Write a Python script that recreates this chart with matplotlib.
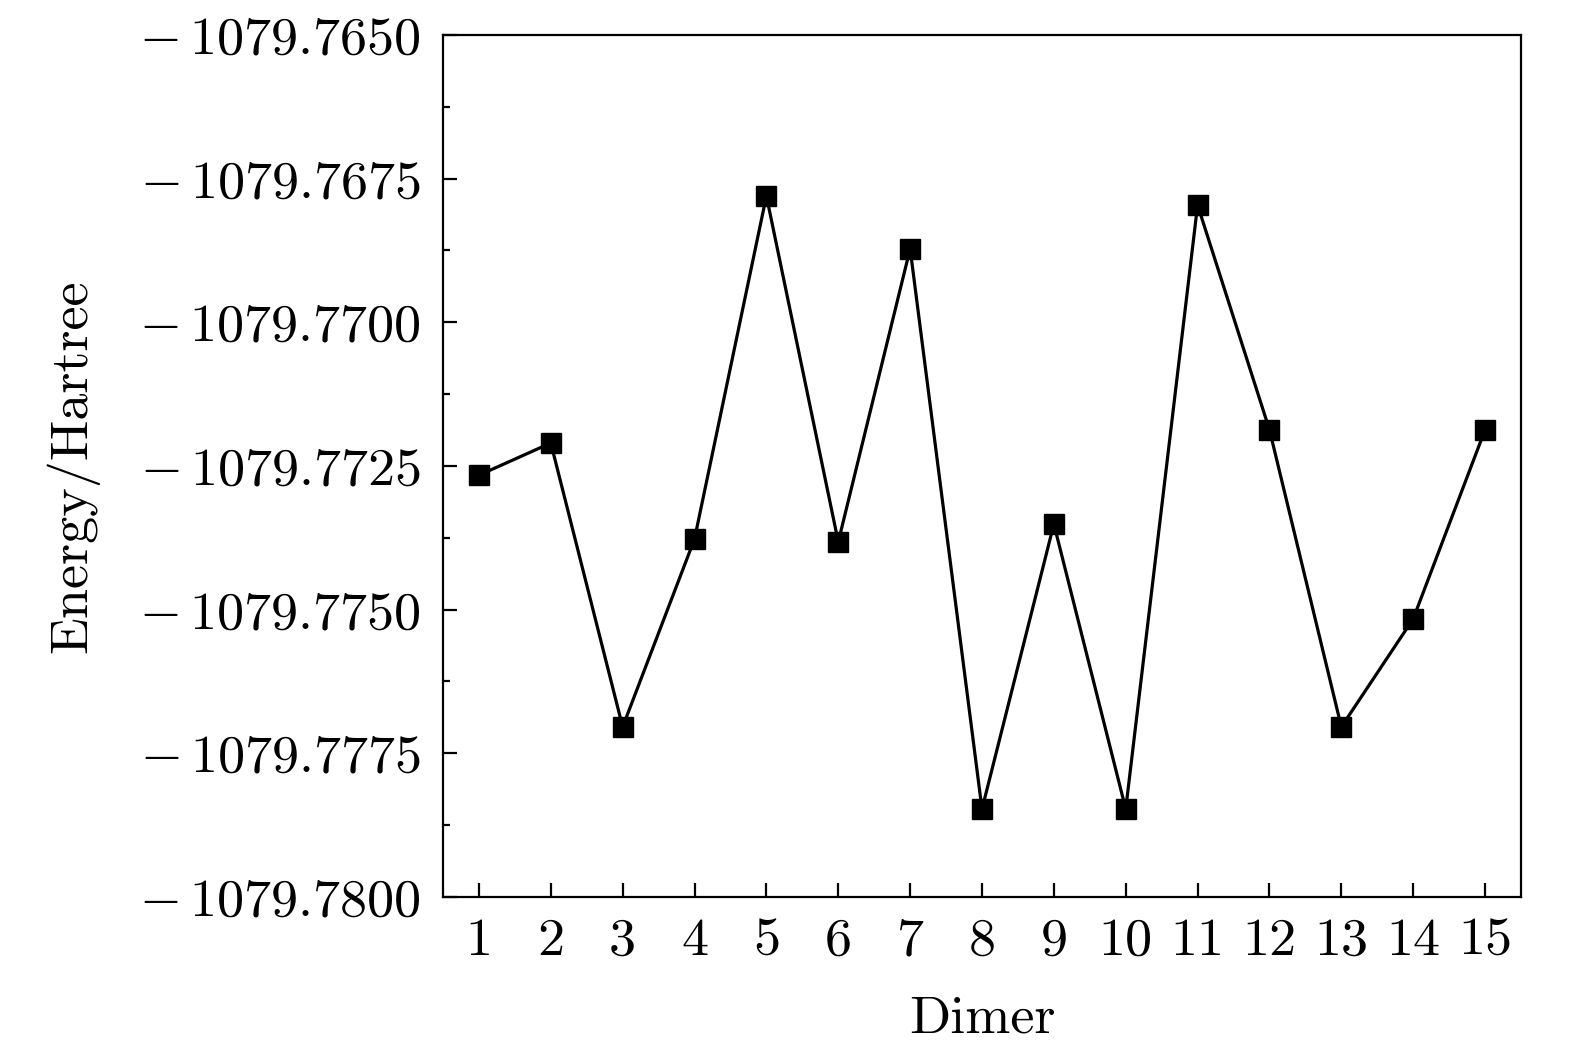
import numpy as np
import matplotlib
matplotlib.use("Agg")
import matplotlib.pyplot as plt
from matplotlib.ticker import MultipleLocator

dimer = list(range(1, 16))
energy = [-1079.77266, -1079.77210, -1079.77704, -1079.77377, -1079.76780,
          -1079.77382, -1079.76872, -1079.77847, -1079.77351, -1079.77847,
          -1079.76796, -1079.77187, -1079.77704, -1079.77516, -1079.77187]
y_ticks = [-1079.7800, -1079.7775, -1079.7750, -1079.7725,
           -1079.7700, -1079.7675, -1079.7650]

plt.rcParams['font.family'] = 'serif'
plt.rcParams['font.serif'] = ['cmr10']
plt.rcParams['mathtext.fontset'] = 'cm'
plt.rcParams['axes.formatter.use_mathtext'] = True

fig = plt.figure(figsize=(15.75, 10.53), dpi=100)
ax = fig.add_axes([443/1575, 1 - 897/1053, (1521-443)/1575, (897-35)/1053])

ax.plot(dimer, energy, color='black', lw=2.3, marker='s', markersize=14,
        markerfacecolor='black', markeredgecolor='black')

ax.set_xlim(0.5, 15.5)
ax.set_ylim(-1079.7800, -1079.7650)
ax.set_xticks(dimer)
ax.set_xticklabels([str(d) for d in dimer])
ax.set_yticks(y_ticks)
ax.set_yticklabels([r'$-\,%.4f$' % abs(v) for v in y_ticks])
ax.yaxis.set_minor_locator(MultipleLocator(0.00125))

for s in ax.spines.values():
    s.set_linewidth(1.6)
ax.tick_params(axis='both', which='major', direction='in', length=10, width=1.6,
               labelsize=39, top=False, right=False)
ax.tick_params(axis='y', which='major', pad=16)
ax.tick_params(axis='x', which='major', pad=15)
ax.tick_params(axis='y', which='minor', direction='in', length=5, width=1.6,
               right=False)
ax.tick_params(axis='x', which='minor', bottom=False, top=False)

ax.set_xlabel('Dimer', fontsize=39, labelpad=22)
ax.set_ylabel('Energy/Hartree', fontsize=39, labelpad=29)

fig.savefig('out.png', dpi=100)
